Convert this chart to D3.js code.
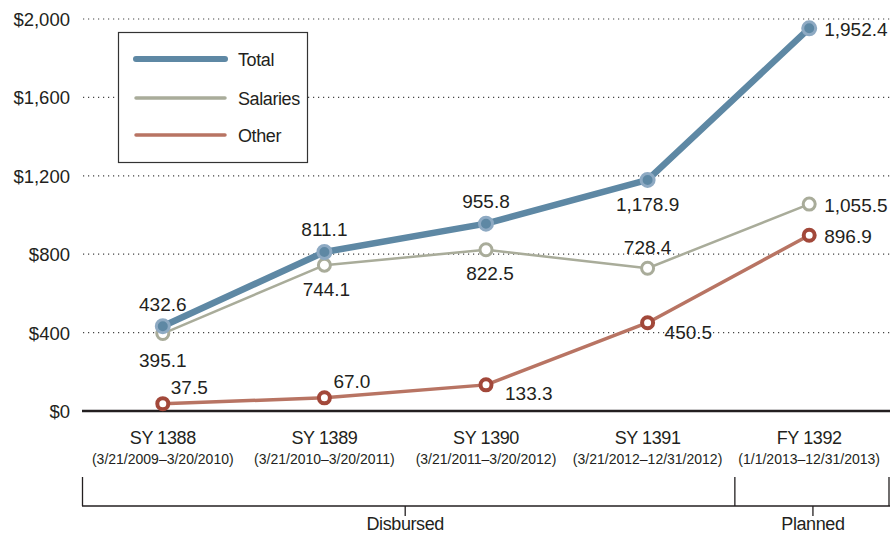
<!DOCTYPE html>
<html>
<head>
<meta charset="utf-8">
<script src="https://cdn.jsdelivr.net/npm/d3@7"></script>
<style>
  html, body { margin: 0; padding: 0; background: #fff; }
  svg { display: block; font-family: "Liberation Sans", Arial, sans-serif; }
  .narrow { letter-spacing: -0.4px; }
</style>
</head>
<body>
<svg id="chart" width="890" height="535"></svg>
<script>
// ---- Data ----
const categories = ["SY 1388", "SY 1389", "SY 1390", "SY 1391", "FY 1392"];
const periods = ["(3/21/2009–3/20/2010)", "(3/21/2010–3/20/2011)", "(3/21/2011–3/20/2012)", "(3/21/2012–12/31/2012)", "(1/1/2013–12/31/2013)"];
const total = [432.6, 811.1, 955.8, 1178.9, 1952.4];
const salaries = [395.1, 744.1, 822.5, 728.4, 1055.5];
const other = [37.5, 67.0, 133.3, 450.5, 896.9];
const yTicks = [0, 400, 800, 1200, 1600, 2000];
const seriesNames = ["Total", "Salaries", "Other"];
const groups = [{ name: "Disbursed", from: 0, to: 3 }, { name: "Planned", from: 4, to: 4 }];

// ---- Layout ----
const svg = d3.select("#chart");
const mLeft = 82, mRight = 890, mTop = 19, mBottom = 411;
const x = d3.scalePoint().domain(categories).range([mLeft, mRight]).padding(0.5);
const y = d3.scaleLinear().domain([0, 2000]).range([mBottom, mTop]);
const fmt = d3.format(",.1f");
const ink = "#231f20";

const styles = {
  Total:    { line: "#5e88a4", width: 6.5, mFill: "#5e88a4", mStroke: "#8eaac3", mWidth: 3, r: 6.5 },
  Salaries: { line: "#a9ac9a", width: 2.5, mFill: "#ffffff", mStroke: "#a9ac9a", mWidth: 3, r: 6 },
  Other:    { line: "#b87463", width: 3.5, mFill: "#ffffff", mStroke: "#a2483a", mWidth: 4, r: 5.5 }
};

// ---- Grid ----
const grid = svg.append("g");
grid.selectAll("line").data(yTicks.filter(d => d > 0)).join("line")
  .attr("x1", mLeft + 1).attr("x2", mRight)
  .attr("y1", d => y(d)).attr("y2", d => y(d))
  .attr("stroke", "#444").attr("stroke-width", 1.2)
  .attr("stroke-dasharray", "1.2,3.8");

// y tick labels
svg.append("g").selectAll("text").data(yTicks).join("text")
  .attr("x", 70).attr("y", d => y(d) + 7)
  .attr("text-anchor", "end").attr("font-size", 18.5).attr("fill", ink)
  .text(d => "$" + d3.format(",")(d));

// baseline
svg.append("line").attr("x1", mLeft).attr("x2", mRight)
  .attr("y1", y(0)).attr("y2", y(0))
  .attr("stroke", ink).attr("stroke-width", 2.5);

// ---- Legend ----
const lg = svg.append("g");
lg.append("rect").attr("x", 118.5).attr("y", 32.5).attr("width", 189).attr("height", 130)
  .attr("fill", "#fff").attr("stroke", "#333").attr("stroke-width", 1.2);
const legendY = [59, 98, 135];
const legendW = { Total: 6, Salaries: 3.5, Other: 3.5 };
seriesNames.forEach((n, i) => {
  lg.append("line").attr("x1", 136).attr("x2", 225)
    .attr("y1", legendY[i]).attr("y2", legendY[i])
    .attr("stroke", styles[n].line).attr("stroke-width", legendW[n])
    .attr("stroke-linecap", "round");
  lg.append("text").attr("class", "narrow").attr("x", 238).attr("y", legendY[i] + 6.5)
    .attr("font-size", 18).attr("fill", ink).text(n);
});

// ---- Lines ----
const lineGen = d3.line().x((d, i) => x(categories[i])).y(d => y(d));
const seriesData = { Total: total, Salaries: salaries, Other: other };
["Other", "Salaries", "Total"].forEach(n => {
  const s = styles[n];
  const g = svg.append("g");
  g.append("path").datum(seriesData[n]).attr("d", lineGen)
    .attr("fill", "none").attr("stroke", s.line).attr("stroke-width", s.width)
    .attr("stroke-linejoin", "round");
  g.selectAll("circle").data(seriesData[n]).join("circle")
    .attr("cx", (d, i) => x(categories[i])).attr("cy", d => y(d)).attr("r", s.r)
    .attr("fill", s.mFill).attr("stroke", s.mStroke).attr("stroke-width", s.mWidth);
});

// ---- Value labels ----
// placement per series/point: [dx, dy, anchor]
const place = {
  Total:    [[0, -15, "middle"], [0, -16, "middle"], [0, -16, "middle"], [0, 31, "middle"], [15, 8, "start"]],
  Salaries: [[0, 33, "middle"], [2, 31, "middle"], [4, 30, "middle"], [0, -14, "middle"], [15, 8, "start"]],
  Other:    [[8, -10, "start"], [9, -10, "start"], [19, 15, "start"], [17, 16, "start"], [15, 8, "start"]]
};
seriesNames.forEach(n => {
  svg.append("g").selectAll("text").data(seriesData[n]).join("text")
    .attr("x", (d, i) => x(categories[i]) + place[n][i][0])
    .attr("y", (d, i) => y(d) + place[n][i][1])
    .attr("text-anchor", (d, i) => place[n][i][2])
    .attr("font-size", 19).attr("fill", ink)
    .text(d => fmt(d));
});

// ---- Category labels ----
const cat = svg.append("g");
cat.selectAll("text.c").data(categories).join("text").attr("class", "c narrow")
  .attr("x", d => x(d)).attr("y", 444).attr("text-anchor", "middle")
  .attr("font-size", 18).attr("fill", ink).text(d => d);
cat.selectAll("text.p").data(periods).join("text").attr("class", "p")
  .attr("x", (d, i) => x(categories[i])).attr("y", 464).attr("text-anchor", "middle")
  .attr("font-size", 14).attr("fill", ink).text(d => d);

// ---- Group brackets ----
const step = x.step();
const bTop = 477, bBot = 506;
const bounds = groups.map(g => {
  const a = g.from === 0 ? mLeft : x(categories[g.from]) - step * 0.46;
  const b = g.to === categories.length - 1 ? mRight - 1 : x(categories[g.to]) + step * 0.54;
  return { name: g.name, a, b, mid: g.from === 0 ? (mLeft + x(categories[g.to]) + step / 2) / 2 : (a + b) / 2 + 1 };
});
const br = svg.append("g").attr("stroke", ink).attr("stroke-width", 1.3).attr("fill", "none");
br.append("line").attr("x1", mLeft).attr("x2", mRight).attr("y1", bBot).attr("y2", bBot);
[mLeft + 0.5, bounds[1].a, mRight - 1].forEach(xx => {
  br.append("line").attr("x1", xx).attr("x2", xx).attr("y1", bTop).attr("y2", bBot);
});
bounds.forEach(b => {
  br.append("line").attr("x1", b.mid).attr("x2", b.mid).attr("y1", bBot).attr("y2", bBot + 10);
  svg.append("text").attr("class", "narrow").attr("x", b.mid).attr("y", 530).attr("text-anchor", "middle")
    .attr("font-size", 18).attr("fill", ink).text(b.name);
});
</script>
</body>
</html>
